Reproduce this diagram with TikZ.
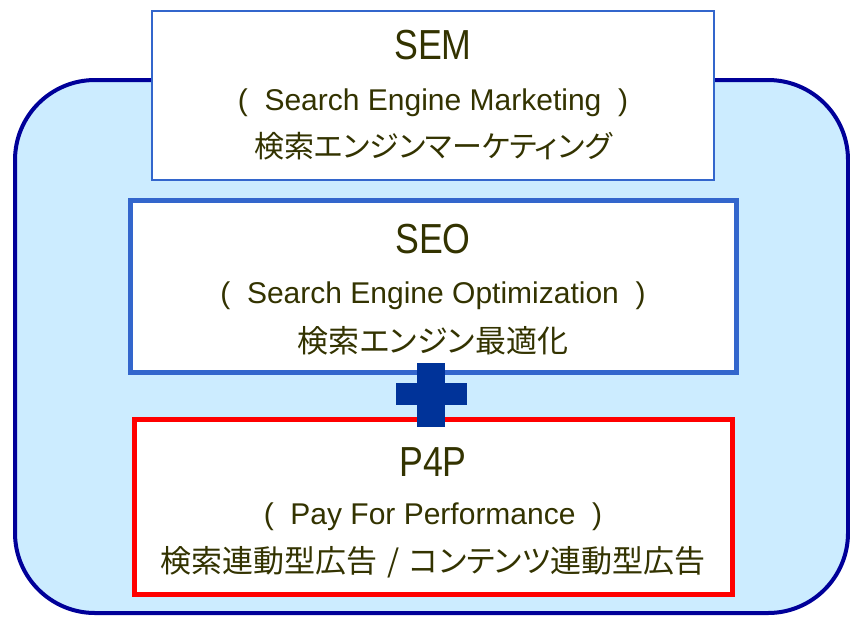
\documentclass[tikz,border=0pt]{standalone}
\usepackage{fontspec}
\setmainfont{Liberation Sans}
\newfontfamily\jpfont[RawFeature=+palt]{Noto Sans CJK JP}
\newfontfamily\titlefont[FakeStretch=0.85]{Liberation Sans}

\definecolor{txtcol}{HTML}{333300}
\definecolor{outerblue}{HTML}{000099}
\definecolor{lightblue}{HTML}{CCECFF}
\definecolor{boxblue}{HTML}{3366CC}
\definecolor{plusblue}{HTML}{003399}

\tikzset{
 boxtext/.style={anchor=base, inner sep=0, text=txtcol},
 titletext/.style={boxtext, font=\titlefont\fontsize{42}{42}\selectfont},
 engtext/.style={boxtext, font=\fontsize{30}{30}\selectfont},
 jptext/.style={boxtext, font=\jpfont\fontsize{31}{31}\selectfont},
 termbox/.style={draw=boxblue, fill=white, inner sep=0, line width=#1},
}

\begin{document}
\begin{tikzpicture}[x=1pt,y=-1pt]
\useasboundingbox (0,0) rectangle (850,616);
% outer frame
\draw[outerblue, fill=lightblue, line width=4pt, rounded corners=80pt] (15,80) rectangle (848,613);
% the three boxes
\node[termbox=2pt, minimum width=562pt, minimum height=169pt] (sem) at (433,95.5) {};
\node[termbox=5pt, minimum width=606pt, minimum height=172pt] (seo) at (433,286) {};
\node[termbox=5pt, draw=red, minimum width=598pt, minimum height=175pt] (ppp) at (433,506.5) {};
% texts
\node[titletext] (semtitle) at (433,59) {SEM};
\node[engtext] (semeng) at (433,110) {(\ \ Search Engine Marketing\ \ )};
\node[jptext, font=\jpfont\fontsize{30}{30}\selectfont] (semjp) at (433,157) {検索エンジンマーケティング};
\node[titletext] (seotitle) at (433,253) {SEO};
\node[engtext] (seoeng) at (433,303) {(\ \ Search Engine Optimization\ \ )};
\node[jptext] (seojp) at (433,352) {検索エンジン最適化};
\node[titletext] (ppptitle) at (433,476) {P4P};
\node[engtext] (pppeng) at (433,524) {(\ \ Pay For Performance\ \ )};
\node[jptext] (pppjp) at (433,572) {検索連動型広告\hspace{10pt}/\hspace{10pt}コンテンツ連動型広告};
% plus sign
\fill[plusblue] (417,363) rectangle (445,427);
\fill[plusblue] (396,383) rectangle (467,405);
\end{tikzpicture}
\end{document}
